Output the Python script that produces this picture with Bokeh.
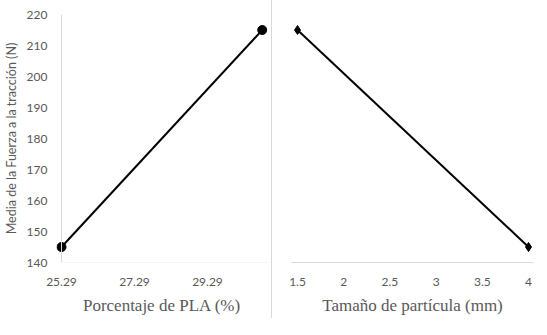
from bokeh.plotting import figure
from bokeh.layouts import row
from bokeh.models import Range1d, FixedTicker, PrintfTickFormatter, Span, BoxAnnotation
from bokeh.embed import file_html
from bokeh.resources import INLINE

# Data
pla_x = [25.29, 30.79]
pla_y = [145, 215]
size_x = [1.5, 4.0]
size_y = [215, 145]
pla_ticks = [25.29, 27.29, 29.29]
size_ticks = [1.5, 2, 2.5, 3, 3.5, 4]
y_ticks = [140, 150, 160, 170, 180, 190, 200, 210, 220]

GRAY_TXT = "#595959"
AXIS_LINE = "#d9d9d9"
TICK_FONT = "Lato"
TITLE_FONT = "Liberation Serif"


def style_common(p):
    p.outline_line_color = None
    p.background_fill_color = "white"
    p.border_fill_color = "white"
    p.xgrid.visible = False
    p.ygrid.visible = False
    ax = p.xaxis[0]
    ax.axis_line_color = AXIS_LINE
    ax.major_tick_line_color = None
    ax.minor_tick_line_color = None
    ax.major_label_text_color = GRAY_TXT
    ax.major_label_text_font = TICK_FONT
    ax.major_label_text_font_size = "12px"
    ax.major_label_standoff = 9
    ax.axis_label_text_font = TITLE_FONT
    ax.axis_label_text_font_style = "normal"
    ax.axis_label_text_font_size = "17px"
    ax.axis_label_text_color = GRAY_TXT
    ax.axis_label_standoff = 7


# Left panel
p1 = figure(width=262, height=318, frame_width=211, frame_height=248,
            min_border_left=47, min_border_right=4, min_border_top=14, min_border_bottom=56,
            x_range=Range1d(25.153, 30.934), y_range=Range1d(140, 220),
            toolbar_location=None, output_backend="svg")
style_common(p1)
p1.xaxis.axis_label = "Porcentaje de PLA (%)"
p1.xaxis.ticker = FixedTicker(ticks=pla_ticks)
p1.xaxis.formatter = PrintfTickFormatter(format="%.2f")
p1.xaxis.axis_line_color = None
ya = p1.yaxis[0]
ya.ticker = FixedTicker(ticks=y_ticks)
ya.axis_line_color = None
ya.major_tick_line_color = None
ya.minor_tick_line_color = None
ya.major_label_text_color = GRAY_TXT
ya.major_label_text_font = TICK_FONT
ya.major_label_text_font_size = "12px"
ya.major_label_standoff = 3
ya.axis_label = "Media de la Fuerza a la tracción (N)"
ya.axis_label_text_font = TICK_FONT
ya.axis_label_text_font_style = "normal"
ya.axis_label_text_font_size = "12.5px"
ya.axis_label_text_color = GRAY_TXT
ya.axis_label_standoff = 5
# axis lines drawn at the axis origin (value axis crosses at the first category)
p1.add_layout(Span(location=pla_ticks[0], dimension="height",
                   line_color=AXIS_LINE, line_width=1))
p1.add_layout(BoxAnnotation(left=pla_ticks[0], bottom=y_ticks[0], top=y_ticks[0],
                            fill_alpha=0, line_color=AXIS_LINE, line_width=1))
p1.line(pla_x, pla_y, line_color="black", line_width=2)
p1.scatter(pla_x, pla_y, marker="circle", size=9, color="black")

# Right panel
p2 = figure(width=264, height=318, frame_width=241, frame_height=248,
            min_border_left=19, min_border_right=4, min_border_top=14, min_border_bottom=56,
            x_range=Range1d(1.435, 4.054), y_range=Range1d(140, 220),
            y_axis_location=None,
            toolbar_location=None, output_backend="svg")
style_common(p2)
p2.xaxis.axis_label = "Tamaño de partícula (mm)"
p2.xaxis.ticker = FixedTicker(ticks=size_ticks)
p2.line(size_x, size_y, line_color="black", line_width=2)
p2.scatter(size_x, size_y, marker="diamond", size=9, color="black")
p2.styles = {"border-left": "1px solid #d9d9d9"}

layout = row(p1, p2, spacing=0)

open("out.html", "w").write(file_html(layout, INLINE))
